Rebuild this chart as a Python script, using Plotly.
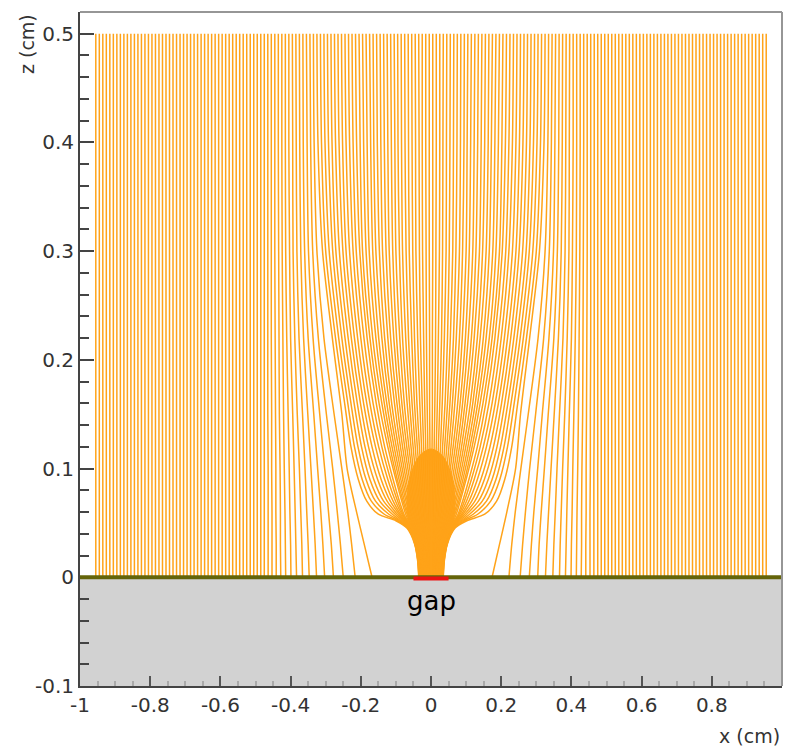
import plotly.graph_objects as go

# ---------------- data ----------------
Z_TOP = 0.5
Z_PLANE = 0.0

# outer field lines: straight, from z=0.5 down to the plane
OUTER_LEFT_X = [-0.955, -0.945, -0.935, -0.925, -0.915, -0.905, -0.895, -0.885, -0.875, -0.865,
                -0.855, -0.845, -0.835, -0.825, -0.815, -0.805, -0.795, -0.785, -0.775, -0.765,
                -0.755, -0.745, -0.735, -0.725, -0.715, -0.705, -0.695, -0.685, -0.675, -0.665,
                -0.655, -0.645, -0.635, -0.625, -0.615, -0.605, -0.595, -0.585, -0.575, -0.565,
                -0.555, -0.545, -0.535, -0.525, -0.515, -0.505, -0.495, -0.485, -0.475]
OUTER_RIGHT_X = [0.475, 0.485, 0.495, 0.505, 0.515, 0.525, 0.535, 0.545, 0.555,
                 0.565, 0.575, 0.585, 0.595, 0.605, 0.615, 0.625, 0.635, 0.645,
                 0.655, 0.665, 0.675, 0.685, 0.695, 0.705, 0.715, 0.725, 0.735, 0.745,
                 0.755, 0.765, 0.775, 0.785, 0.795, 0.805, 0.815, 0.825, 0.835, 0.845,
                 0.855, 0.865, 0.875, 0.885, 0.895, 0.905, 0.915, 0.925, 0.935, 0.945, 0.955]

# field lines ending on the plane, bending towards the gap near the bottom
PLANE_Z = [0.50, 0.40, 0.30, 0.22, 0.15, 0.10, 0.06, 0.03, 0.00]
PLANE_LEFT_X = [
    [-0.465, -0.465, -0.465, -0.465, -0.465, -0.464, -0.464, -0.464, -0.464],
    [-0.455, -0.455, -0.455, -0.455, -0.454, -0.454, -0.453, -0.453, -0.453],
    [-0.445, -0.445, -0.445, -0.444, -0.443, -0.442, -0.442, -0.441, -0.441],
    [-0.435, -0.435, -0.434, -0.433, -0.432, -0.430, -0.429, -0.429, -0.428],
    [-0.425, -0.425, -0.424, -0.422, -0.420, -0.418, -0.416, -0.415, -0.414],
    [-0.415, -0.415, -0.414, -0.411, -0.407, -0.404, -0.402, -0.400, -0.399],
    [-0.405, -0.405, -0.403, -0.400, -0.394, -0.390, -0.387, -0.385, -0.383],
    [-0.395, -0.394, -0.393, -0.388, -0.381, -0.375, -0.371, -0.368, -0.366],
    [-0.385, -0.384, -0.382, -0.376, -0.366, -0.359, -0.354, -0.350, -0.347],
    [-0.375, -0.374, -0.371, -0.363, -0.351, -0.342, -0.335, -0.330, -0.326],
    [-0.365, -0.364, -0.360, -0.350, -0.334, -0.323, -0.314, -0.308, -0.303],
    [-0.355, -0.353, -0.349, -0.336, -0.317, -0.303, -0.292, -0.284, -0.278],
    [-0.345, -0.343, -0.337, -0.321, -0.298, -0.280, -0.267, -0.258, -0.250],
    [-0.335, -0.333, -0.325, -0.305, -0.276, -0.254, -0.237, -0.226, -0.216],
    [-0.325, -0.322, -0.309, -0.281, -0.254, -0.239, -0.212, -0.190, -0.168],
]
PLANE_RIGHT_X = [
    [0.465, 0.465, 0.465, 0.465, 0.465, 0.464, 0.464, 0.464, 0.464],
    [0.455, 0.455, 0.455, 0.455, 0.454, 0.454, 0.453, 0.453, 0.453],
    [0.445, 0.445, 0.445, 0.444, 0.443, 0.442, 0.442, 0.441, 0.441],
    [0.435, 0.435, 0.434, 0.433, 0.432, 0.430, 0.429, 0.429, 0.428],
    [0.425, 0.425, 0.424, 0.422, 0.420, 0.418, 0.416, 0.415, 0.414],
    [0.415, 0.415, 0.414, 0.411, 0.407, 0.404, 0.402, 0.400, 0.399],
    [0.405, 0.405, 0.403, 0.400, 0.394, 0.390, 0.387, 0.385, 0.383],
    [0.395, 0.394, 0.393, 0.388, 0.381, 0.375, 0.371, 0.368, 0.366],
    [0.385, 0.384, 0.382, 0.376, 0.366, 0.359, 0.354, 0.350, 0.347],
    [0.375, 0.374, 0.371, 0.363, 0.351, 0.342, 0.335, 0.330, 0.326],
    [0.365, 0.364, 0.360, 0.350, 0.334, 0.323, 0.314, 0.308, 0.304],
    [0.355, 0.353, 0.349, 0.336, 0.317, 0.304, 0.293, 0.286, 0.280],
    [0.345, 0.343, 0.337, 0.321, 0.298, 0.281, 0.269, 0.261, 0.254],
    [0.335, 0.333, 0.325, 0.305, 0.277, 0.256, 0.240, 0.230, 0.222],
    [0.325, 0.322, 0.309, 0.281, 0.255, 0.241, 0.216, 0.195, 0.174],
]

# outer lines that turn into the gap (the outermost one has the horizontal kink)
GAP_Z = [0.50, 0.40, 0.30, 0.22, 0.16, 0.12, 0.09, 0.07, 0.058, 0.052, 0.045, 0.03, 0.015, 0.00]
GAP_LEFT_X = [
    [-0.315, -0.312, -0.300, -0.272, -0.246, -0.228, -0.207, -0.183, -0.150, -0.100, -0.068, -0.046, -0.038, -0.035],
    [-0.305, -0.302, -0.290, -0.263, -0.237, -0.218, -0.196, -0.170, -0.133, -0.095, -0.066, -0.045, -0.037, -0.034],
    [-0.295, -0.292, -0.280, -0.254, -0.228, -0.208, -0.185, -0.158, -0.120, -0.090, -0.064, -0.044, -0.036, -0.033],
    [-0.285, -0.282, -0.271, -0.245, -0.219, -0.198, -0.174, -0.146, -0.110, -0.086, -0.062, -0.043, -0.035, -0.032],
    [-0.275, -0.272, -0.261, -0.236, -0.210, -0.188, -0.163, -0.135, -0.102, -0.082, -0.060, -0.042, -0.034, -0.031],
    [-0.265, -0.262, -0.251, -0.227, -0.201, -0.178, -0.152, -0.125, -0.096, -0.079, -0.058, -0.041, -0.033, -0.030],
    [-0.255, -0.252, -0.242, -0.218, -0.192, -0.168, -0.142, -0.116, -0.091, -0.076, -0.057, -0.040, -0.032, -0.029],
    [-0.245, -0.242, -0.232, -0.209, -0.183, -0.158, -0.132, -0.108, -0.087, -0.073, -0.056, -0.039, -0.031, -0.028],
    [-0.235, -0.232, -0.222, -0.200, -0.174, -0.149, -0.123, -0.101, -0.083, -0.071, -0.055, -0.038, -0.030, -0.027],
    [-0.225, -0.222, -0.213, -0.191, -0.165, -0.140, -0.115, -0.095, -0.080, -0.069, -0.054, -0.037, -0.029, -0.026],
    [-0.215, -0.212, -0.203, -0.182, -0.156, -0.132, -0.108, -0.090, -0.077, -0.067, -0.053, -0.036, -0.028, -0.025],
]
GAP_RIGHT_X = [
    [0.315, 0.312, 0.300, 0.272, 0.247, 0.230, 0.210, 0.187, 0.153, 0.102, 0.068, 0.046, 0.038, 0.035],
    [0.305, 0.302, 0.290, 0.263, 0.237, 0.218, 0.196, 0.170, 0.133, 0.095, 0.066, 0.045, 0.037, 0.034],
    [0.295, 0.292, 0.280, 0.254, 0.228, 0.208, 0.185, 0.158, 0.120, 0.090, 0.064, 0.044, 0.036, 0.033],
    [0.285, 0.282, 0.271, 0.245, 0.219, 0.198, 0.174, 0.146, 0.110, 0.086, 0.062, 0.043, 0.035, 0.032],
    [0.275, 0.272, 0.261, 0.236, 0.210, 0.188, 0.163, 0.135, 0.102, 0.082, 0.060, 0.042, 0.034, 0.031],
    [0.265, 0.262, 0.251, 0.227, 0.201, 0.178, 0.152, 0.125, 0.096, 0.079, 0.058, 0.041, 0.033, 0.030],
    [0.255, 0.252, 0.242, 0.218, 0.192, 0.168, 0.142, 0.116, 0.091, 0.076, 0.057, 0.040, 0.032, 0.029],
    [0.245, 0.242, 0.232, 0.209, 0.183, 0.158, 0.132, 0.108, 0.087, 0.073, 0.056, 0.039, 0.031, 0.028],
    [0.235, 0.232, 0.222, 0.200, 0.174, 0.149, 0.123, 0.101, 0.083, 0.071, 0.055, 0.038, 0.030, 0.027],
    [0.225, 0.222, 0.213, 0.191, 0.165, 0.140, 0.115, 0.095, 0.080, 0.069, 0.054, 0.037, 0.029, 0.026],
    [0.215, 0.212, 0.203, 0.182, 0.156, 0.132, 0.108, 0.090, 0.077, 0.067, 0.053, 0.036, 0.028, 0.025],
]

# inner lines that converge straight into the gap (dense core)
INNER_Z = [0.50, 0.40, 0.30, 0.22, 0.16, 0.12, 0.09, 0.058, 0.03, 0.00]
INNER_LEFT_X = [
    [-0.205, -0.202, -0.195, -0.174, -0.148, -0.123, -0.100, -0.072, -0.035, -0.024],
    [-0.195, -0.192, -0.185, -0.166, -0.140, -0.117, -0.096, -0.068, -0.033, -0.023],
    [-0.185, -0.182, -0.176, -0.157, -0.133, -0.111, -0.091, -0.065, -0.031, -0.022],
    [-0.175, -0.172, -0.166, -0.149, -0.126, -0.105, -0.086, -0.061, -0.030, -0.020],
    [-0.165, -0.163, -0.157, -0.140, -0.119, -0.099, -0.081, -0.058, -0.028, -0.019],
    [-0.155, -0.153, -0.147, -0.132, -0.112, -0.093, -0.076, -0.054, -0.026, -0.018],
    [-0.145, -0.143, -0.138, -0.123, -0.104, -0.087, -0.071, -0.051, -0.025, -0.017],
    [-0.135, -0.133, -0.128, -0.115, -0.097, -0.081, -0.066, -0.047, -0.023, -0.016],
    [-0.125, -0.123, -0.119, -0.106, -0.090, -0.075, -0.061, -0.044, -0.021, -0.015],
    [-0.115, -0.113, -0.109, -0.098, -0.083, -0.069, -0.056, -0.040, -0.020, -0.013],
    [-0.105, -0.103, -0.100, -0.089, -0.076, -0.063, -0.051, -0.037, -0.018, -0.012],
    [-0.095, -0.094, -0.090, -0.081, -0.068, -0.057, -0.047, -0.033, -0.016, -0.011],
    [-0.085, -0.084, -0.081, -0.072, -0.061, -0.051, -0.042, -0.030, -0.014, -0.010],
    [-0.075, -0.074, -0.071, -0.064, -0.054, -0.045, -0.037, -0.026, -0.013, -0.009],
    [-0.065, -0.064, -0.062, -0.055, -0.047, -0.039, -0.032, -0.023, -0.011, -0.008],
    [-0.055, -0.054, -0.052, -0.047, -0.040, -0.033, -0.027, -0.019, -0.009, -0.006],
    [-0.045, -0.044, -0.043, -0.038, -0.032, -0.027, -0.022, -0.016, -0.008, -0.005],
    [-0.035, -0.034, -0.033, -0.030, -0.025, -0.021, -0.017, -0.012, -0.006, -0.004],
    [-0.025, -0.025, -0.024, -0.021, -0.018, -0.015, -0.012, -0.009, -0.004, -0.003],
    [-0.015, -0.015, -0.014, -0.013, -0.011, -0.009, -0.007, -0.005, -0.003, -0.002],
    [-0.005, -0.005, -0.005, -0.004, -0.004, -0.003, -0.002, -0.002, -0.001, -0.001],
]
INNER_RIGHT_X = [
    [0.205, 0.202, 0.195, 0.174, 0.148, 0.123, 0.100, 0.072, 0.035, 0.024],
    [0.195, 0.192, 0.185, 0.166, 0.140, 0.117, 0.096, 0.068, 0.033, 0.023],
    [0.185, 0.182, 0.176, 0.157, 0.133, 0.111, 0.091, 0.065, 0.031, 0.022],
    [0.175, 0.172, 0.166, 0.149, 0.126, 0.105, 0.086, 0.061, 0.030, 0.020],
    [0.165, 0.163, 0.157, 0.140, 0.119, 0.099, 0.081, 0.058, 0.028, 0.019],
    [0.155, 0.153, 0.147, 0.132, 0.112, 0.093, 0.076, 0.054, 0.026, 0.018],
    [0.145, 0.143, 0.138, 0.123, 0.104, 0.087, 0.071, 0.051, 0.025, 0.017],
    [0.135, 0.133, 0.128, 0.115, 0.097, 0.081, 0.066, 0.047, 0.023, 0.016],
    [0.125, 0.123, 0.119, 0.106, 0.090, 0.075, 0.061, 0.044, 0.021, 0.015],
    [0.115, 0.113, 0.109, 0.098, 0.083, 0.069, 0.056, 0.040, 0.020, 0.013],
    [0.105, 0.103, 0.100, 0.089, 0.076, 0.063, 0.051, 0.037, 0.018, 0.012],
    [0.095, 0.094, 0.090, 0.081, 0.068, 0.057, 0.047, 0.033, 0.016, 0.011],
    [0.085, 0.084, 0.081, 0.072, 0.061, 0.051, 0.042, 0.030, 0.014, 0.010],
    [0.075, 0.074, 0.071, 0.064, 0.054, 0.045, 0.037, 0.026, 0.013, 0.009],
    [0.065, 0.064, 0.062, 0.055, 0.047, 0.039, 0.032, 0.023, 0.011, 0.008],
    [0.055, 0.054, 0.052, 0.047, 0.040, 0.033, 0.027, 0.019, 0.009, 0.006],
    [0.045, 0.044, 0.043, 0.038, 0.032, 0.027, 0.022, 0.016, 0.008, 0.005],
    [0.035, 0.034, 0.033, 0.030, 0.025, 0.021, 0.017, 0.012, 0.006, 0.004],
    [0.025, 0.025, 0.024, 0.021, 0.018, 0.015, 0.012, 0.009, 0.004, 0.003],
    [0.015, 0.015, 0.014, 0.013, 0.011, 0.009, 0.007, 0.005, 0.003, 0.002],
    [0.005, 0.005, 0.005, 0.004, 0.004, 0.003, 0.002, 0.002, 0.001, 0.001],
]

# outline of the saturated core where the lines merge above the gap
CORE_X = [-0.035, -0.040, -0.050, -0.063, -0.068, -0.064, -0.052, -0.032, 0.0,
          0.032, 0.052, 0.064, 0.068, 0.063, 0.050, 0.040, 0.035]
CORE_Z = [0.000, 0.020, 0.035, 0.050, 0.065, 0.085, 0.100, 0.112, 0.118,
          0.112, 0.100, 0.085, 0.065, 0.050, 0.035, 0.020, 0.000]

GAP_X0, GAP_X1 = -0.05, 0.05
X_TICKS = [-1, -0.8, -0.6, -0.4, -0.2, 0, 0.2, 0.4, 0.6, 0.8, 1]
X_TICK_TEXT = ["-1", "-0.8", "-0.6", "-0.4", "-0.2", "0", "0.2", "0.4", "0.6", "0.8", "1"]
Z_TICKS = [-0.1, 0, 0.1, 0.2, 0.3, 0.4, 0.5]
Z_TICK_TEXT = ["-0.1", "0", "0.1", "0.2", "0.3", "0.4", "0.5"]

# ---------------- build figure ----------------
xs, zs = [], []
for x in OUTER_LEFT_X + OUTER_RIGHT_X:
    xs += [x, x, None]
    zs += [Z_TOP, Z_PLANE, None]
for row in PLANE_LEFT_X + PLANE_RIGHT_X:
    xs += list(row) + [None]
    zs += list(PLANE_Z) + [None]
for row in GAP_LEFT_X + GAP_RIGHT_X:
    xs += list(row) + [None]
    zs += list(GAP_Z) + [None]
for row in INNER_LEFT_X + INNER_RIGHT_X:
    xs += list(row) + [None]
    zs += list(INNER_Z) + [None]

LINE_COLOR = "rgb(255,163,25)"
CORE_COLOR = "rgb(255,158,15)"

fig = go.Figure()
fig.add_trace(go.Scatter(x=CORE_X, y=CORE_Z, mode="lines", fill="toself",
                         fillcolor=CORE_COLOR, line=dict(color=CORE_COLOR, width=1, shape="spline"),
                         hoverinfo="skip", showlegend=False))
fig.add_trace(go.Scatter(x=xs, y=zs, mode="lines",
                         line=dict(color=LINE_COLOR, width=1.5, shape="spline", smoothing=0.8),
                         connectgaps=False, hoverinfo="skip", showlegend=False))

shapes = [
    dict(type="rect", xref="x", yref="y", x0=-1, x1=1, y0=-0.1, y1=0,
         fillcolor="rgb(210,210,210)", line=dict(width=0), layer="below"),
    dict(type="line", xref="x", yref="y", x0=-1, x1=1, y0=0, y1=0,
         line=dict(color="rgb(100,100,10)", width=4), layer="above"),
    dict(type="line", xref="x", yref="y", x0=GAP_X0, x1=GAP_X1, y0=-0.001, y1=-0.001,
         line=dict(color="rgb(235,20,20)", width=4), layer="above"),
    dict(type="line", xref="paper", yref="paper", x0=0, x1=1, y0=1, y1=1,
         line=dict(color="rgb(150,150,150)", width=2)),
    dict(type="line", xref="paper", yref="paper", x0=1, x1=1, y0=0, y1=1,
         line=dict(color="rgb(150,150,150)", width=2)),
]

annotations = [
    dict(x=0, y=-0.022, xref="x", yref="y", text="gap", showarrow=False,
         font=dict(family="DejaVu Sans", size=26, color="black")),
    dict(x=0, y=0.9525, xref="paper", yref="paper", xshift=-53, text="z (cm)",
         xanchor="center", yanchor="middle",
         textangle=-90, showarrow=False, font=dict(family="DejaVu Sans", size=19, color="#333")),
    dict(x=0.954, y=0, xref="paper", yref="paper", yshift=-50, text="x (cm)",
         xanchor="center", yanchor="middle",
         showarrow=False, font=dict(family="DejaVu Sans", size=19, color="#333")),
]

fig.update_layout(
    width=785, height=747,
    margin=dict(l=80, r=3, t=12, b=61, autoexpand=False),
    plot_bgcolor="white", paper_bgcolor="white",
    shapes=shapes, annotations=annotations,
    showlegend=False,
    xaxis=dict(range=[-1, 1], tickvals=X_TICKS, ticktext=X_TICK_TEXT, automargin=False,
               ticks="inside", ticklen=10, tickcolor="#555", tickwidth=1.5,
               showline=True, linecolor="#444", linewidth=2,
               showgrid=False, zeroline=False,
               tickfont=dict(family="DejaVu Sans", size=20, color="#333"),
               minor=dict(dtick=0.05, ticks="inside", ticklen=5, tickcolor="#aaa")),
    yaxis=dict(range=[-0.1, 0.52], tickvals=Z_TICKS, ticktext=Z_TICK_TEXT, automargin=False,
               ticks="inside", ticklen=14, tickcolor="#444", tickwidth=2,
               showline=True, linecolor="#444", linewidth=2,
               showgrid=False, zeroline=False,
               tickfont=dict(family="DejaVu Sans", size=20, color="#333"),
               minor=dict(dtick=0.02, ticks="inside", ticklen=9, tickcolor="#444", tickwidth=2)),
)

fig.write_html("out.html", config={"displayModeBar": False},
               post_script="document.body.style.margin='0px';"
                           "document.documentElement.style.overflow='hidden';")
